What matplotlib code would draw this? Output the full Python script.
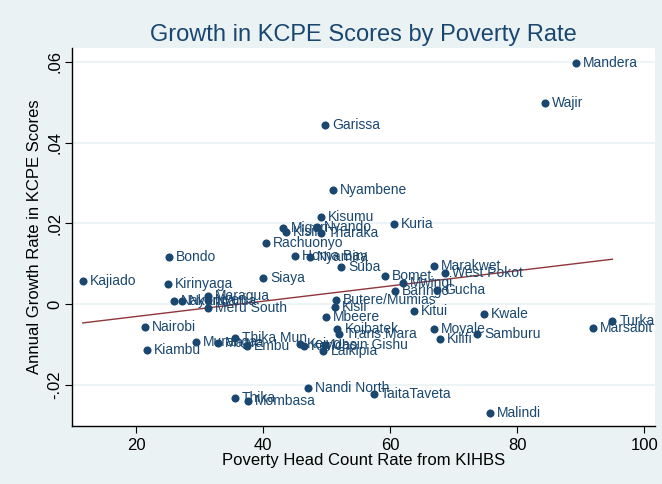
import matplotlib
matplotlib.use("Agg")
import matplotlib.pyplot as plt
import numpy as np

plt.rcParams["font.family"] = ["Liberation Sans", "DejaVu Sans"]

# district, poverty head count rate (%), annual growth in KCPE scores
districts = [
    "Mandera", "Wajir", "Garissa", "Nyambene", "Kisumu", "Kuria",
    "Migori", "Kisii", "Nyando", "Tharaka", "Rachuonyo", "Homa Bay",
    "Nyamira", "Suba", "Siaya", "Bomet.", "Mwingi", "Baringo",
    "Marakwet", "West Pokot", "Gucha", "Butere/Mumias", "Kisii", "Mbeere",
    "Kitui", "Kwale", "Moyale", "Kilifi", "Samburu", "Marsabit",
    "Turkana", "Koibatek", "Trans Mara", "Keiyo", "Kericho", "Uasin Gishu",
    "Laikipia", "Thika Mun", "Embu", "Muranga", "Maara", "Nandi North",
    "TaitaTaveta", "Thika", "Mombasa", "Malindi", "Kajiado", "Bondo",
    "Kirinyaga", "Nairobi", "Kiambu", "Nakuru", "Nyandarua", "Maragua",
    "Nyeri", "Meru South",
]
poverty = [
    89.2, 84.4, 49.8, 51.0, 49.1, 60.6,
    43.2, 43.6, 48.5, 49.1, 40.5, 45.0,
    47.3, 52.3, 40.0, 59.2, 62.0, 60.7,
    66.9, 68.7, 67.4, 51.5, 51.3, 49.9,
    63.8, 74.8, 66.9, 67.9, 73.7, 92.0,
    95.0, 51.7, 51.9, 45.8, 46.4, 49.8,
    49.5, 35.6, 37.5, 29.4, 32.9, 47.0,
    57.4, 35.6, 37.6, 75.7, 11.6, 25.1,
    25.0, 21.4, 21.7, 25.9, 27.2, 31.3,
    31.3, 31.3,
]
growth = [
    0.0597, 0.0499, 0.0444, 0.0282, 0.0216, 0.0198,
    0.0188, 0.0179, 0.0190, 0.0175, 0.0150, 0.0120,
    0.0116, 0.0092, 0.0065, 0.0070, 0.0051, 0.0032,
    0.0095, 0.0078, 0.0035, 0.0010, -0.0007, -0.0031,
    -0.0017, -0.0025, -0.0063, -0.0086, -0.0074, -0.0059,
    -0.0042, -0.0063, -0.0073, -0.0099, -0.0104, -0.0102,
    -0.0117, -0.0085, -0.0104, -0.0094, -0.0097, -0.0207,
    -0.0223, -0.0233, -0.0240, -0.0269, 0.0057, 0.0116,
    0.0049, -0.0057, -0.0115, 0.0007, 0.0008, 0.0019,
    0.0009, -0.0010,
]

x_ticks = [20, 40, 60, 80, 100]
y_ticks = [-0.02, 0.0, 0.02, 0.04, 0.06]
y_tick_labels = ["-.02", "0", ".02", ".04", ".06"]

navy = "#1a476f"
bg = "#eaf2f3"
maroon = "#90353b"

fig = plt.figure(figsize=(6.62, 4.84), dpi=100)
fig.patch.set_facecolor(bg)
ax = fig.add_axes([72 / 662, 1 - 426 / 484, (655 - 72) / 662, (426 - 48) / 484])
ax.set_facecolor("white")

x = np.array(poverty)
y = np.array(growth)

ax.grid(axis="y", color=bg, linewidth=1.2, zorder=0)
ax.set_axisbelow(True)

# linear fit over the observed range
slope, intercept = np.polyfit(x, y, 1)
xs = np.array([x.min(), x.max()])
ax.plot(xs, intercept + slope * xs, color=maroon, linewidth=1.0, zorder=2)

ax.scatter(x, y, s=34, color=navy, zorder=3, linewidths=0)
for name, px, py in zip(districts, x, y):
    ax.annotate(name, (px, py), xytext=(5, 0), textcoords="offset points",
                va="center", ha="left", fontsize=10, color=navy, zorder=4,
                clip_on=True)

ax.set_xlim(9.9, 101.7)
ax.set_ylim(-0.0302, 0.0634)
ax.set_xticks(x_ticks)
ax.set_yticks(y_ticks)
ax.set_yticklabels(y_tick_labels, rotation=90, va="center")
ax.tick_params(labelsize=12, length=5, color="black")
ax.tick_params(axis="y", pad=2)

for side in ["top", "right"]:
    ax.spines[side].set_visible(False)
for side in ["left", "bottom"]:
    ax.spines[side].set_color("black")
    ax.spines[side].set_linewidth(1.0)

ax.set_xlabel("Poverty Head Count Rate from KIHBS", fontsize=12, labelpad=0)
ax.set_ylabel("Annual Growth Rate in KCPE Scores", fontsize=12, labelpad=4)

fig.text((72 + 655) / 2 / 662, 1 - 35 / 484, "Growth in KCPE Scores by Poverty Rate",
         ha="center", va="center", fontsize=17, color=navy)

fig.savefig("out.png", dpi=100, facecolor=bg)
